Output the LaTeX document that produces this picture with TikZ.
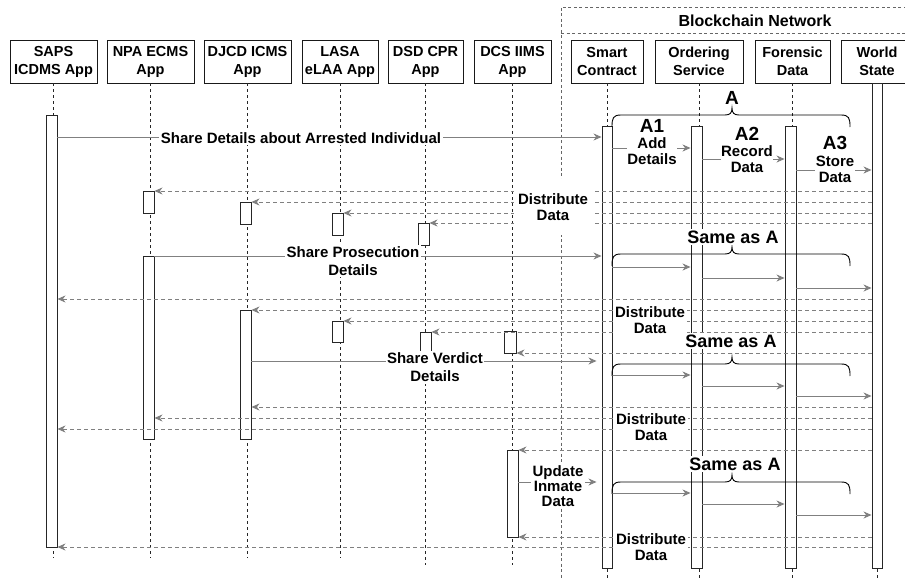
\documentclass[tikz,border=0pt]{standalone}
\usepackage{fontspec}
\setmainfont{Liberation Sans}
\usetikzlibrary{arrows.meta}
\newcommand\actb[5]{\node[actbar, minimum width={(#3-#2)*1pt}, minimum height={(#5-#4)*1pt}] (#1) at ({(#2+#3)/2},{(#4+#5)/2}) {};}
\newcommand\msgto[3]{\draw[msg] (#1.east |- 0,#3) -- (#2.west |- 0,#3);}
\newcommand\retto[3]{\draw[ret] (#1.west |- 0,#3) -- (#2.east |- 0,#3);}
\newcommand\sbrace[1]{\draw[brc] (612,#1+12) .. controls (612,#1+3) and (613,#1) .. (621,#1) -- (725,#1) .. controls (730,#1) and (732,#1-2) .. (732,#1-7) .. controls (732,#1-2) and (734,#1) .. (739,#1) -- (841,#1) .. controls (849,#1) and (850,#1+3) .. (850,#1+12);}
\begin{document}
\begin{tikzpicture}[x=1pt,y=-1pt,
  hdr/.style={draw=black!90, line width=0.9pt, fill=white, minimum height=43pt, inner sep=0pt, align=center, font=\bfseries\fontsize{14.5}{18}\selectfont},
  life/.style={draw=black!85, line width=0.8pt, dash pattern=on 3pt off 3pt},
  actbar/.style={draw=black!85, line width=0.9pt, fill=white, inner sep=0pt},
  msg/.style={draw=black!50, line width=1pt, -{Stealth[length=8pt,width=7pt,inset=2.5pt,fill=black!50]}},
  ret/.style={msg, dash pattern=on 4pt off 3pt},
  lbl/.style={fill=white, inner sep=1.5pt, align=center, font=\bfseries\fontsize{15}{16}\selectfont},
  big/.style={fill=white, inner sep=1pt, font=\bfseries\fontsize{19}{19}\selectfont},
  same/.style={fill=white, inner sep=2pt, font=\bfseries\fontsize{18}{18}\selectfont},
  brc/.style={draw=black, line width=0.9pt},
  netb/.style={draw=black!60, line width=0.8pt, dash pattern=on 3pt off 2.5pt}
]
\useasboundingbox (0,0) rectangle (905,578);
\clip (0,0) rectangle (905,578);
% blockchain network frame
\draw[netb] (912,7) -- (561,7) -- (561,582);
\draw[netb] (561,33) -- (912,33);
\node[font=\bfseries\fontsize{16}{16}\selectfont] (bcn) at (755,20.5) {Blockchain Network};
% headers
\node[hdr, minimum width=87pt] (saps) at (53.5,61.5) {SAPS\\ICDMS App};
\node[hdr, minimum width=87pt] (npa) at (150.5,61.5) {NPA ECMS\\App};
\node[hdr, minimum width=87pt] (djcd) at (247.5,61.5) {DJCD ICMS\\App};
\node[hdr, minimum width=76pt] (lasa) at (340,61.5) {LASA\\eLAA App};
\node[hdr, minimum width=75pt] (dsd) at (425.5,61.5) {DSD CPR\\App};
\node[hdr, minimum width=77pt] (dcs) at (512.5,61.5) {DCS IIMS\\App};
\node[hdr, minimum width=72pt] (sc) at (607,61.5) {Smart\\Contract};
\node[hdr, minimum width=88pt] (os) at (699,61.5) {Ordering\\Service};
\node[hdr, minimum width=75pt] (fd) at (792.5,61.5) {Forensic\\Data};
\node[hdr, minimum width=72pt] (ws) at (877,61.5) {World\\State};
% lifelines
\draw[life] (saps.south) -- (saps.south |- 0,558);
\draw[life] (npa.south) -- (npa.south |- 0,558);
\draw[life] (djcd.south) -- (djcd.south |- 0,558);
\draw[life] (lasa.south) -- (lasa.south |- 0,558);
\draw[life] (dsd.south) -- (dsd.south |- 0,565);
\draw[life] (dcs.south) -- (dcs.south |- 0,565);
\draw[life] (sc.south) -- (sc.south |- 0,582);
\draw[life] (os.south) -- (os.south |- 0,582);
\draw[life] (fd.south) -- (fd.south |- 0,582);
\draw[life] (ws.south) -- (ws.south |- 0,582);
% activation bars
\actb{sapsA}{46}{57}{115}{547}
\actb{npa1}{143}{154}{191}{213}
\actb{djcd1}{240}{251}{202}{224}
\actb{lasa1}{332}{343}{213}{235}
\actb{dsd1}{418}{429}{223}{245}
\actb{npa2}{143}{154}{256}{439}
\actb{djcd2}{240}{251}{310}{439}
\actb{lasa2}{332}{343}{321}{342}
\actb{dsd2}{420}{431}{332}{353}
\actb{dcs1}{504}{516}{331}{353}
\actb{dcs2}{507}{518}{450}{537}
\actb{scA}{602}{612}{126}{568}
\actb{osA}{691}{702}{126}{568}
\actb{fdA}{785}{796}{126}{568}
\actb{wsA}{872}{882}{83}{568}
% messages
\msgto{sapsA}{scA}{137}
\msgto{npa2}{scA}{256}
\draw[msg] (djcd2.east |- 0,361) -- ([xshift=-5pt]scA.west |- 0,361);
\draw[msg] (dcs2.east |- 0,482) -- ([xshift=-5pt]scA.west |- 0,482);
% A sequences
\msgto{scA}{osA}{148} \msgto{osA}{fdA}{159} \msgto{fdA}{wsA}{170}
\msgto{scA}{osA}{267} \msgto{osA}{fdA}{278} \msgto{fdA}{wsA}{288}
\msgto{scA}{osA}{375} \msgto{osA}{fdA}{386} \msgto{fdA}{wsA}{396}
\msgto{scA}{osA}{493} \msgto{osA}{fdA}{504} \msgto{fdA}{wsA}{515}
% returns
\retto{wsA}{npa1}{191} \retto{wsA}{djcd1}{202} \retto{wsA}{lasa1}{213} \retto{wsA}{dsd1}{223}
\retto{wsA}{sapsA}{299} \retto{wsA}{djcd2}{310} \retto{wsA}{lasa2}{321} \retto{wsA}{dsd2}{332} \retto{wsA}{dcs1}{353}
\retto{wsA}{djcd2}{407} \retto{wsA}{npa2}{418} \retto{wsA}{sapsA}{429} \retto{wsA}{dcs2}{450}
\retto{wsA}{dcs2}{537} \retto{wsA}{sapsA}{547}
% braces
\sbrace{115}
\sbrace{254}
\sbrace{364}
\sbrace{482}
% labels
\node[lbl] (l1) at (301,138) {Share Details about Arrested Individual};
\node[big, fill=none] (la) at (732,97.5) {A};
\node[big] (la1) at (652,126) {A1};
\node[lbl, inner sep=0.5pt] (la1t) at (652,151) {Add\\Details};
\node[big] (la2) at (747,134) {A2};
\node[lbl, inner sep=0.5pt] (la2t) at (747,159) {Record\\Data};
\node[big] (la3) at (835,143) {A3};
\node[lbl, inner sep=0.5pt] (la3t) at (835,169.5) {Store\\Data};
\node[lbl, minimum width=78pt, minimum height=56pt] (d1) at (553,207) {Distribute\\Data};
\node[lbl] (d2) at (650,320) {Distribute\\Data};
\node[lbl] (d3) at (651,427) {Distribute\\Data};
\node[lbl] (d4) at (651,547) {Distribute\\Data};
\node[lbl, font=\bfseries\fontsize{15}{18}\selectfont] (lp) at (353,261) {Share Prosecution\\Details};
\node[lbl, font=\bfseries\fontsize{15}{18}\selectfont] (lv) at (435,367.5) {Share Verdict\\Details};
\node[lbl, font=\bfseries\fontsize{15}{15}\selectfont] (lu) at (558,486) {Update\\Inmate\\Data};
\node[same] (s1) at (733,237) {Same as A};
\node[same] (s2) at (731,341) {Same as A};
\node[same] (s3) at (735,464) {Same as A};
\end{tikzpicture}
\end{document}
